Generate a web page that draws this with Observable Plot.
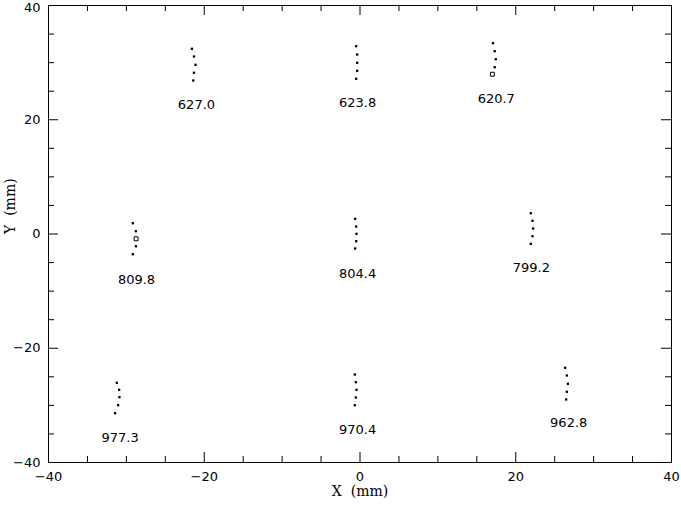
<!DOCTYPE html>
<html>
<head>
<meta charset="utf-8">
<script src="https://cdn.jsdelivr.net/npm/d3@7"></script>
<script src="https://cdn.jsdelivr.net/npm/@observablehq/plot@0.6"></script>
<style>
  html, body { margin: 0; padding: 0; background: #fff; }
  #chart { width: 681px; height: 505px; }
</style>
</head>
<body>
<div id="chart"></div>
<script>
// Group labels (one per cluster) and their positions (mm)
const groupNames = ["627.0", "623.8", "620.7", "809.8", "804.4", "799.2", "977.3", "970.4", "962.8"];
const labelX = [-21.0, -0.3, 17.5, -28.7, -0.3, 22.0, -30.8, -0.3, 26.8];
const labelY = [22.6, 23.0, 23.6, -8.0, -7.0, -6.0, -35.6, -34.3, -33.0];

// Point positions (mm), five per cluster, in cluster order
const pointGroup = [0,0,0,0,0, 1,1,1,1,1, 2,2,2,2,2, 3,3,3,3,3, 4,4,4,4,4, 5,5,5,5,5, 6,6,6,6,6, 7,7,7,7,7, 8,8,8,8,8];
const pointX = [
  -21.58, -21.32, -21.12, -21.32, -21.41,
  -0.49, -0.36, -0.36, -0.36, -0.49,
  17.08, 17.30, 17.43, 17.30, 17.00,
  -29.17, -28.78, -28.75, -28.78, -29.17,
  -0.62, -0.49, -0.45, -0.49, -0.62,
  21.93, 22.15, 22.23, 22.15, 21.93,
  -31.23, -30.93, -30.89, -31.06, -31.45,
  -0.67, -0.54, -0.45, -0.54, -0.67,
  26.34, 26.56, 26.69, 26.56, 26.47
];
const pointY = [
  32.42, 31.07, 29.62, 28.22, 26.87,
  32.88, 31.42, 29.97, 28.57, 27.17,
  33.40, 32.00, 30.60, 29.20, 27.97,
  1.89, 0.49, -0.84, -2.14, -3.54,
  2.66, 1.31, 0.03, -1.26, -2.54,
  3.64, 2.31, 0.96, -0.39, -1.72,
  -26.05, -27.27, -28.57, -29.97, -31.37,
  -24.60, -25.94, -27.27, -28.62, -29.97,
  -23.42, -24.77, -26.22, -27.62, -28.97
];
// open (hollow) markers
const pointOpen = [
  0,0,0,0,0, 0,0,0,0,0, 0,0,0,0,1,
  0,0,1,0,0, 0,0,0,0,0, 0,0,0,0,0,
  0,0,0,0,0, 0,0,0,0,0, 0,0,0,0,0
];

const majorTicks = [-40, -20, 0, 20, 40];
const minorTicks = d3.range(-40, 40.01, 5).filter(v => v % 20 !== 0);

const points = pointX.map((x, i) => ({x, y: pointY[i], g: pointGroup[i], open: pointOpen[i] === 1}));
const labels = groupNames.map((t, i) => ({t, x: labelX[i], y: labelY[i]}));

const W = 681, H = 505;
const mL = 48, mR = 10, mT = 5, mB = 43;
const pw = W - mL - mR, ph = H - mT - mB;
const font = "'DejaVu Sans', 'Liberation Sans', sans-serif";

const chart = Plot.plot({
  width: W,
  height: H,
  marginLeft: mL, marginRight: mR, marginTop: mT, marginBottom: mB,
  style: {fontFamily: font, fontSize: "13px", color: "#000", background: "#fff", overflow: "visible"},
  x: {domain: [-40, 40], label: null},
  y: {domain: [-40, 40], label: null},
  marks: [
    Plot.frame({stroke: "#000", strokeWidth: 1}),
    // inward ticks: bottom & top
    Plot.tickX(majorTicks, {x: d => d, insetTop: ph - 10, stroke: "#000"}),
    Plot.tickX(minorTicks, {x: d => d, insetTop: ph - 6, stroke: "#000"}),
    Plot.tickX(majorTicks, {x: d => d, insetBottom: ph - 10, stroke: "#000"}),
    Plot.tickX(minorTicks, {x: d => d, insetBottom: ph - 6, stroke: "#000"}),
    // inward ticks: left & right
    Plot.tickY(majorTicks, {y: d => d, insetRight: pw - 10, stroke: "#000"}),
    Plot.tickY(minorTicks, {y: d => d, insetRight: pw - 6, stroke: "#000"}),
    Plot.tickY(majorTicks, {y: d => d, insetLeft: pw - 10, stroke: "#000"}),
    Plot.tickY(minorTicks, {y: d => d, insetLeft: pw - 6, stroke: "#000"}),
    Plot.axisX(majorTicks, {anchor: "bottom", tickSize: 0, tickPadding: 9, fontSize: 13, fill: "#000"}),
    Plot.axisY(majorTicks.slice(0, -1), {anchor: "left", tickSize: 0, tickPadding: 8, fontSize: 13, fill: "#000"}),
    Plot.axisY(majorTicks.slice(-1), {anchor: "left", tickSize: 0, tickPadding: 8, fontSize: 13, fill: "#000", dy: 2}),
    Plot.text(["X  (mm)"], {frameAnchor: "bottom", dy: 33, fontSize: 14, fontFamily: "'DejaVu Serif', serif", fill: "#000"}),
    Plot.text(["Y  (mm)"], {frameAnchor: "left", dx: -38, rotate: -90, fontSize: 14, fontFamily: "'DejaVu Serif', serif", fill: "#000"}),
    Plot.dot(points.filter(d => !d.open), {x: "x", y: "y", symbol: "square", r: 1.3, fill: "#000", stroke: "none"}),
    Plot.dot(points.filter(d => d.open), {x: "x", y: "y", symbol: "square", r: 2.2, fill: "none", stroke: "#000", strokeWidth: 1}),
    Plot.text(labels, {x: "x", y: "y", text: "t", fontSize: 13, fill: "#000"})
  ]
});
document.getElementById("chart").appendChild(chart);
</script>
</body>
</html>
